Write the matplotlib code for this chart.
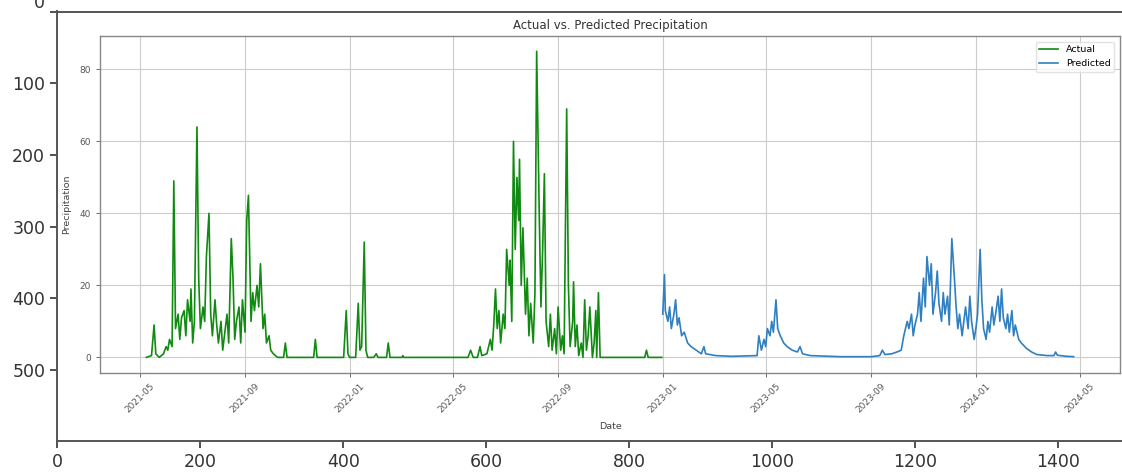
import matplotlib
matplotlib.use("Agg")
import matplotlib.pyplot as plt
import matplotlib.dates as mdates
import matplotlib.transforms as mtransforms
import pandas as pd

# ---- data (day offsets from 2021-05-01) ----
base_date = "2021-05-01"

actual_days = [8, 14, 17, 19, 23, 28, 31, 33, 35, 38, 40, 42, 45, 47, 49, 52, 54, 56, 59, 60,
               62, 64, 67, 69, 71, 74, 76, 78, 81, 83, 85, 88, 90, 92, 95, 97, 99, 102, 104, 107,
               109, 111, 113, 116, 118, 120, 123, 125, 127, 130, 132, 134, 137, 139, 141, 144, 146, 148, 151, 153,
               156, 161, 168, 170, 172, 203, 205, 207, 238, 241, 243, 245, 252, 255, 257, 259, 262, 264, 266, 273,
               276, 278, 288, 290, 292, 306, 307, 308, 383, 386, 389, 394, 397, 399, 405, 409, 411, 413, 415, 417,
               419, 421, 424, 426, 428, 431, 432, 434, 436, 438, 440, 442, 443, 445, 447, 450, 452, 454, 456, 459,
               461, 463, 466, 468, 470, 472, 474, 477, 479, 481, 484, 486, 488, 491, 493, 495, 498, 500, 502, 505,
               506, 508, 510, 512, 515, 517, 519, 521, 523, 525, 528, 530, 532, 533, 535, 537, 589, 591, 593, 609]
actual_vals = [0, 0.5, 9, 1, 0, 1, 3, 2, 5, 3, 49, 8, 12, 5, 11, 13, 6, 16, 10, 19,
               4, 10, 64, 22, 8, 14, 10, 28, 40, 12, 6, 16, 9, 4, 10, 2, 6, 12, 4, 33,
               22, 5, 10, 14, 4, 16, 7, 38, 45, 10, 18, 13, 20, 14, 26, 8, 12, 4, 6, 2,
               1, 0, 0, 4, 0, 0, 5, 0, 0, 13, 1, 0, 0, 15, 2, 3, 32, 2, 0, 0,
               1, 0, 0, 4, 0, 0, 0.5, 0, 0, 2, 0, 0, 3, 0.5, 1, 5, 2, 9, 19, 8,
               13, 4, 12, 8, 30, 20, 27, 10, 60, 30, 50, 38, 55, 20, 36, 12, 22, 6, 15, 4,
               18, 85, 40, 14, 30, 51, 10, 3, 12, 2, 8, 1, 14, 2, 6, 1, 69, 20, 3, 10,
               21, 3, 9, 0.5, 4, 0, 16, 2, 6, 14, 0, 4, 13, 0, 18, 0, 0, 2, 0, 0]

pred_days = [610, 612, 613, 616, 618, 620, 623, 625, 627, 629, 632, 635, 639, 643, 649, 655, 658, 660, 672, 690,
             720, 722, 725, 728, 730, 732, 735, 737, 739, 742, 744, 747, 751, 755, 761, 767, 770, 773, 782, 817,
             853, 863, 866, 869, 877, 883, 888, 891, 895, 897, 900, 902, 904, 907, 909, 911, 914, 916, 918, 921,
             923, 925, 928, 930, 932, 935, 937, 939, 942, 944, 947, 950, 952, 954, 956, 959, 961, 963, 966, 968,
             970, 973, 975, 977, 980, 982, 984, 987, 989, 991, 994, 996, 998, 1001, 1003, 1005, 1007, 1010, 1012, 1014,
             1017, 1019, 1021, 1025, 1028, 1034, 1040, 1046, 1058, 1066, 1068, 1070, 1081, 1089]
pred_vals = [12, 23, 13, 10, 14, 8, 12, 16, 9, 11, 6, 7, 4, 3, 2, 1, 3, 1, 0.5, 0.3,
             0.5, 6, 2, 5, 3, 8, 6, 10, 7, 16, 8, 6, 4, 3, 2, 1.5, 3, 1, 0.5, 0.2,
             0.2, 0.5, 2, 0.8, 1, 1.5, 2, 6, 10, 8, 12, 6, 9, 12, 18, 10, 22, 14, 28, 20,
             26, 12, 18, 24, 15, 10, 18, 12, 17, 9, 33, 22, 14, 8, 12, 6, 10, 14, 8, 17,
             10, 5, 8, 12, 30, 16, 8, 5, 10, 7, 14, 9, 12, 17, 10, 19, 11, 8, 12, 7,
             13, 6, 9, 5, 4, 2.5, 1.5, 0.8, 0.5, 0.5, 1.5, 0.6, 0.3, 0.2]

outer_xticks = [0, 200, 400, 600, 800, 1000, 1200, 1400]
outer_yticks = [0, 100, 200, 300, 400, 500]

series_names = ["Actual", "Predicted"]
title_text = "Actual vs. Predicted Precipitation"

# ---- figure ----
W, H = 1122, 475
fig = plt.figure(figsize=(W / 100, H / 100), dpi=100)

# outer (image-display) axes
ol, ot, ob = 57, 11.5, 441
ow = 1500 * 0.715
outer = fig.add_axes([ol / W, (H - ob) / H, ow / W, (ob - ot) / H])
outer.set_xlim(-0.5, 1499.5)
outer.set_ylim(599.5, -0.5)
outer.set_xticks(outer_xticks)
outer.set_yticks(outer_yticks)
outer.tick_params(labelsize=12.5, colors="#333333", length=5, width=1.2)
for sp in outer.spines.values():
    sp.set_color("#555555")
    sp.set_linewidth(1.4)
outer.set_facecolor("white")

# shift the clipped "0" label upward like the cropped screenshot
fig.canvas.draw()
lab0 = outer.get_yticklabels()[0]
lab0.set_transform(lab0.get_transform() + mtransforms.ScaledTranslation(0, 0.11, fig.dpi_scale_trans))

# inner chart axes
il, ir, it, ib = 100, 1120, 36, 372.7
inner = fig.add_axes([il / W, (H - ib) / H, (ir - il) / W, (ib - it) / H])

d0 = pd.Timestamp(base_date)
a_dates = d0 + pd.to_timedelta(actual_days, unit="D")
p_dates = d0 + pd.to_timedelta(pred_days, unit="D")

inner.plot(a_dates, actual_vals, color="#118a11", lw=1.2, label=series_names[0])
inner.plot(p_dates, pred_vals, color="#2f7fc1", lw=1.2, label=series_names[1])

inner.xaxis.set_major_locator(mdates.MonthLocator(bymonth=[1, 5, 9]))
inner.xaxis.set_major_formatter(mdates.DateFormatter("%Y-%m"))
inner.set_yticks([0, 20, 40, 60, 80])
for lab in inner.get_xticklabels():
    lab.set_rotation(45)
inner.tick_params(labelsize=6.5, colors="#555555", length=3, width=0.6)
inner.grid(True, color="#cccccc", lw=0.8)
for sp in inner.spines.values():
    sp.set_color("#888888")
    sp.set_linewidth(1.0)

inner.set_title(title_text, fontsize=8.5, color="#333333", pad=5)
inner.set_xlabel("Date", fontsize=6.8, color="#444444", labelpad=5)
inner.set_ylabel("Precipitation", fontsize=6.8, color="#444444", labelpad=6)
leg = inner.legend(loc="upper right", fontsize=6.8, frameon=True, borderaxespad=0.6)
leg.get_frame().set_edgecolor("#dddddd")

fig.savefig("out.png", dpi=100)
